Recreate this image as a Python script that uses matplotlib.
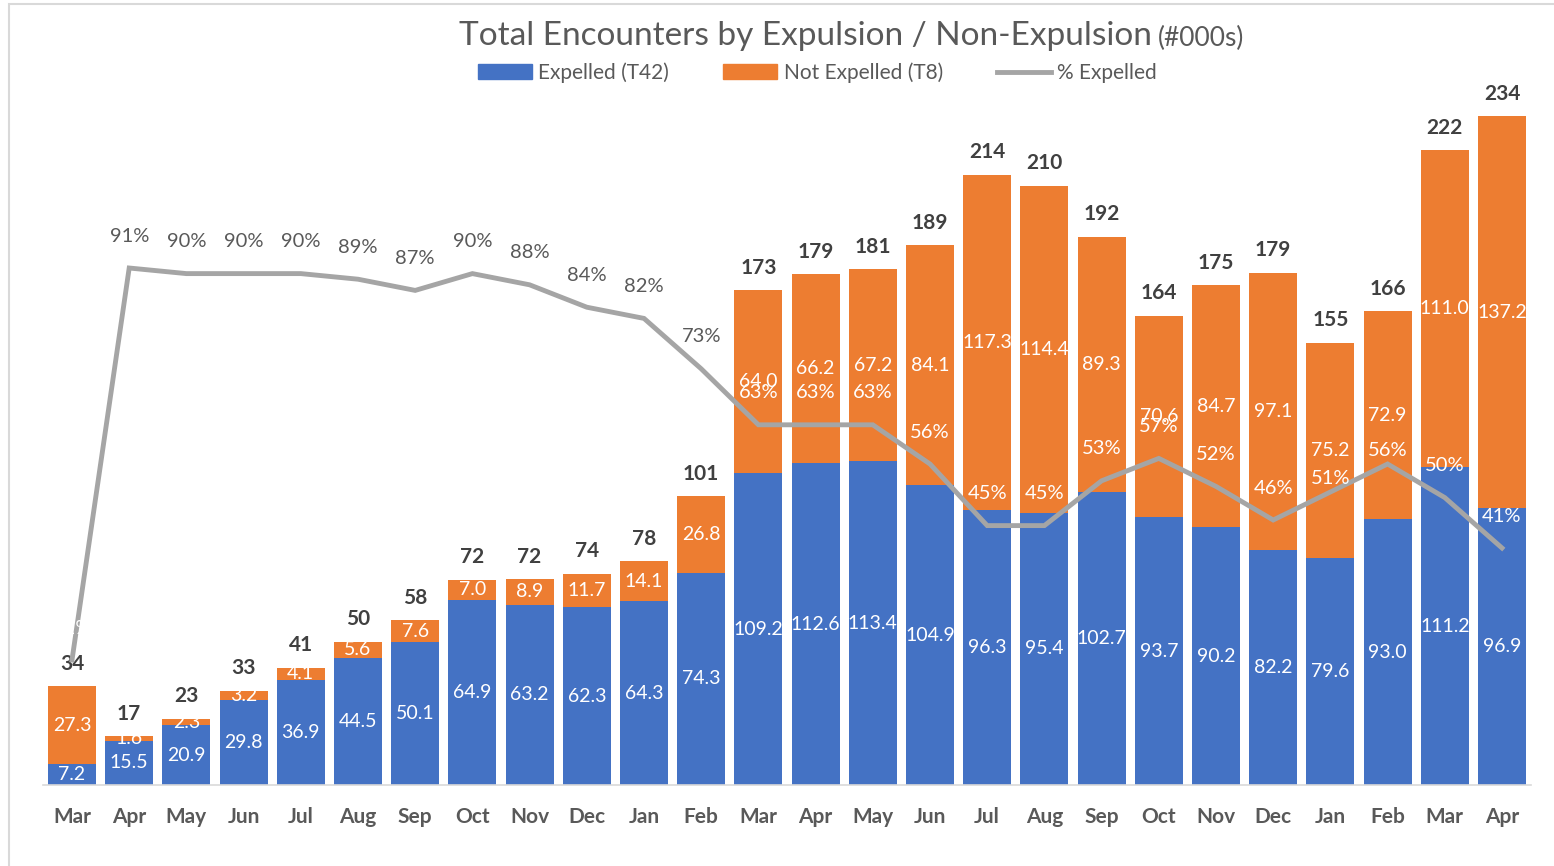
import numpy as np
import matplotlib.pyplot as plt
from matplotlib import patches
from matplotlib.lines import Line2D

plt.rcParams['font.family'] = ['Lato', 'DejaVu Sans']

# data (thousands)
months = ['Mar', 'Apr', 'May', 'Jun', 'Jul', 'Aug', 'Sep', 'Oct', 'Nov', 'Dec', 'Jan', 'Feb', 'Mar',
          'Apr', 'May', 'Jun', 'Jul', 'Aug', 'Sep', 'Oct', 'Nov', 'Dec', 'Jan', 'Feb', 'Mar', 'Apr']
expelled = [7.2, 15.5, 20.9, 29.8, 36.9, 44.5, 50.1, 64.9, 63.2, 62.3, 64.3, 74.3, 109.2,
            112.6, 113.4, 104.9, 96.3, 95.4, 102.7, 93.7, 90.2, 82.2, 79.6, 93.0, 111.2, 96.9]
not_expelled = [27.3, 1.6, 2.3, 3.2, 4.1, 5.6, 7.6, 7.0, 8.9, 11.7, 14.1, 26.8, 64.0,
                66.2, 67.2, 84.1, 117.3, 114.4, 89.3, 70.6, 84.7, 97.1, 75.2, 72.9, 111.0, 137.2]
totals = [34, 17, 23, 33, 41, 50, 58, 72, 72, 74, 78, 101, 173,
          179, 181, 189, 214, 210, 192, 164, 175, 179, 155, 166, 222, 234]
pct_expelled = [21, 91, 90, 90, 90, 89, 87, 90, 88, 84, 82, 73, 63,
                63, 63, 56, 45, 45, 53, 57, 52, 46, 51, 56, 50, 41]

BLUE = '#4472C4'
ORANGE = '#ED7D31'
GREY = '#A5A5A5'
TXT = '#595959'
DARK = '#404040'

fig = plt.figure(figsize=(15.54, 8.66), dpi=100)
ax = fig.add_axes([43.4 / 1554, 81 / 866, 1487.2 / 1554, 714 / 866])
ax2 = ax.twinx()

x = np.arange(len(months))
ax.bar(x, expelled, width=0.84, color=BLUE)
ax.bar(x, not_expelled, width=0.84, bottom=expelled, color=ORANGE)

# segment labels
for xi, e, n in zip(x, expelled, not_expelled):
    ax.text(xi, e / 2, f'{e:.1f}', ha='center', va='center', color='white', fontsize=14)
    ax.text(xi, e + n / 2, f'{n:.1f}', ha='center', va='center', color='white', fontsize=14)

# totals
for xi, e, n, t in zip(x, expelled, not_expelled, totals):
    ax.annotate(f'{t}', (xi, e + n), xytext=(0, 9), textcoords='offset points',
                ha='center', va='bottom', color=DARK, fontsize=15, fontweight='bold')

ax.set_xlim(-0.5, len(months) - 0.5)
ax.set_ylim(0, 250)
ax.set_xticks(x)
ax.set_xticklabels(months, fontsize=15, fontweight='bold', color=TXT)
ax.tick_params(axis='x', length=0, pad=16)
ax.set_yticks([])
for s in ['top', 'right', 'left']:
    ax.spines[s].set_visible(False)
ax.spines['bottom'].set_color('#D9D9D9')
ax.spines['bottom'].set_linewidth(1.2)

# % expelled line (secondary axis)
pct = np.array(pct_expelled) / 100
ax2.plot(x, pct, color=GREY, lw=3.5, solid_joinstyle='miter')
ax2.set_ylim(-0.0132, 1.2618)
ax2.set_yticks([])
for s in ax2.spines.values():
    s.set_visible(False)
for i, (xi, p) in enumerate(zip(x, pct)):
    col = TXT if 1 <= i <= 11 else 'white'
    dy = 10 if i in (22, 23) else 23
    ax2.annotate(f'{pct_expelled[i]}%', (xi, p), xytext=(0, dy), textcoords='offset points',
                 ha='center', va='center', color=col, fontsize=14.5)

# title
fig.text(1152 / 1554, 0.958, 'Total Encounters by Expulsion / Non-Expulsion', ha='right',
         va='center', fontsize=24, color=TXT)
fig.text(1158 / 1554, 0.956, '(#000s)', ha='left', va='center', fontsize=19, color=TXT)

handles = [patches.Patch(color=BLUE), patches.Patch(color=ORANGE),
           Line2D([0], [0], color=GREY, lw=3.5)]
leg = fig.legend(handles, ['Expelled (T42)', 'Not Expelled (T8)', '% Expelled'],
                 loc='center', bbox_to_anchor=(0.526, 0.916), ncol=3, frameon=False,
                 fontsize=15, handlelength=2.6, handleheight=0.75, handletextpad=0.3,
                 columnspacing=2.6)
for t in leg.get_texts():
    t.set_color(TXT)

# chart border
fig.patches.append(patches.Rectangle((9 / 1554, -10 / 866), 1560 / 1554, 872 / 866,
                                     transform=fig.transFigure, fill=False,
                                     edgecolor='#D9D9D9', lw=1.5))

fig.savefig('out.png', dpi=100)
